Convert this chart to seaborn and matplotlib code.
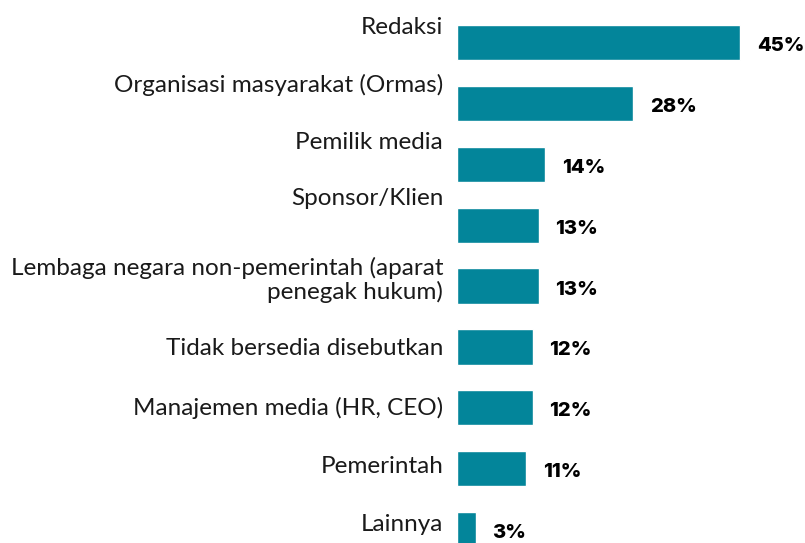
import matplotlib
matplotlib.use('Agg')
from matplotlib import pyplot as plt
import seaborn as sns
import pandas as pd

# data
categories = ['Redaksi', 'Organisasi masyarakat (Ormas)', 'Pemilik media', 'Sponsor/Klien',
              'Lembaga negara non-pemerintah (aparat\npenegak hukum)', 'Tidak bersedia disebutkan',
              'Manajemen media (HR, CEO)', 'Pemerintah', 'Lainnya']
values = [45, 28, 14, 13, 13, 12, 12, 11, 3]
value_labels = ['45%', '28%', '14%', '13%', '13%', '12%', '12%', '11%', '3%']

# vertical shift of each category label (in bar units), labels sit above the bar at the top
label_dy = [-0.25, -0.3, -0.36, -0.43, -0.1, 0.03, 0.0, -0.03, -0.08]

bar_color = '#03859a'
text_color = '#1a1a1a'

sns.set_style('white')
plt.rcParams['font.family'] = ['Lato', 'DejaVu Sans']

df = pd.DataFrame({'cat': categories, 'val': values})

fig = plt.figure(figsize=(8.05, 5.43), dpi=100)
ax = fig.add_axes([457 / 805, 0, 348 / 805, 1])
sns.barplot(data=df, x='val', y='cat', orient='h', color=bar_color, saturation=1,
            width=0.58, ax=ax)

ax.set_xlim(0, 55.3)
ax.set_ylim(8.22, -0.698)
ax.set_axis_off()

# category labels, right aligned left of the bars
for i, (cat, dy) in enumerate(zip(categories, label_dy)):
    ax.text(-2.2, i + dy, cat, ha='right', va='center', fontsize=17.5,
            color=text_color, clip_on=False, linespacing=1.1)

# value labels, a little below bar centre
texts = ax.bar_label(ax.containers[0], labels=value_labels, padding=12, fontsize=14.5,
                     fontweight='heavy', color='black', family=['Inter', 'DejaVu Sans'])
for t in texts:
    t.set_y(-2.5)

fig.savefig('out.png', dpi=100)
